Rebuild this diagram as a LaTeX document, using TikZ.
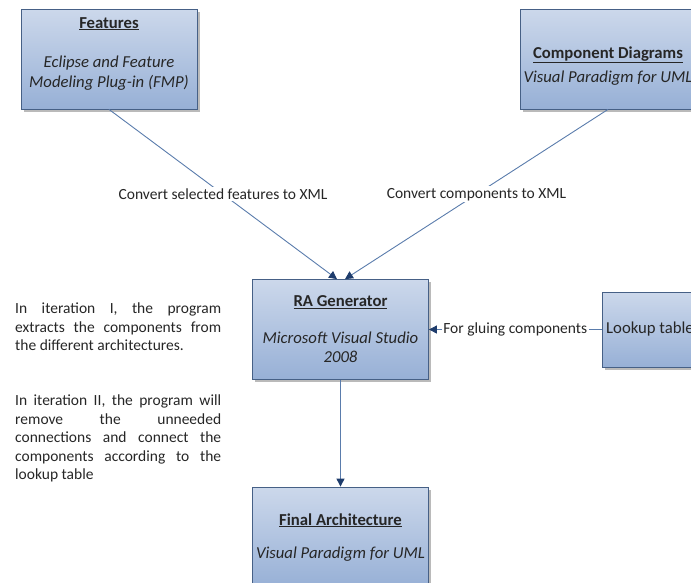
\documentclass[tikz,border=0pt]{standalone}
\usepackage{fontspec}
\setmainfont{Carlito}
\usetikzlibrary{positioning,arrows.meta,shadows}
\definecolor{boxtop}{RGB}{204,216,235}
\definecolor{boxbot}{RGB}{151,176,214}
\definecolor{boxedge}{RGB}{70,96,134}
\definecolor{linkblue}{RGB}{90,124,172}
\definecolor{tipnavy}{RGB}{30,60,108}
\definecolor{ink}{RGB}{38,38,38}
\newcommand{\bodyfont}{\fontsize{15.5}{18.4}\selectfont}
\newcommand{\boxfont}{\fontsize{16.7}{19.5}\selectfont}
\tikzset{
  toolbox/.style={draw=boxedge, line width=0.8pt, top color=boxtop, bottom color=boxbot,
    drop shadow={shadow xshift=2.5pt, shadow yshift=-2.5pt, fill=black!60, opacity=0.45},
    minimum width=176pt, minimum height=100pt, inner sep=0pt},
  boxtext/.style={font=\boxfont, text=ink, align=center, inner sep=0pt},
  notetext/.style={font=\bodyfont, text=ink, align=justify, text width=206pt,
    inner sep=0pt, anchor=north west},
  flowlabel/.style={font=\bodyfont, text=ink, fill=white, inner sep=1.5pt},
  flowarr/.style={draw=linkblue, line width=0.9pt,
    -{Triangle[length=8pt,width=8pt,color=tipnavy]}},
}

\begin{document}
\begin{tikzpicture}[x=1pt, y=-1pt]
  \useasboundingbox (0,0) rectangle (691,582);
  \clip (0,0) rectangle (691,582);

  % ---- source tools ----
  \node[toolbox] at (109,59) (Feat) {};
  \node[boxtext, below=8.5pt of Feat.north] (FeatTxt)
    {\textbf{\underline{Features}}\\[20pt]\textit{Eclipse and Feature}\\\textit{Modeling Plug-in (FMP)}};
  \node[toolbox] at (608,59) (CompDia) {};
  \node[boxtext, below=37.5pt of CompDia.north] (CompTxt)
    {\textbf{\underline{Component Diagrams}}\\[4.5pt]\textit{Visual Paradigm for UML}};

  % ---- generator + lookup ----
  \node[toolbox] at (340.5,329.5) (RAGen) {};
  \node[boxtext, below=16.5pt of RAGen.north] (RATxt)
    {\textbf{\underline{RA Generator}}\\[17pt]\textit{Microsoft Visual Studio}\\\textit{2008}};
  \node[toolbox, minimum width=96pt, minimum height=75pt, font=\boxfont, text=ink]
    at (650,329.5) (Lookup) {Lookup table};

  % ---- result ----
  \node[toolbox] at (340.5,537) (FinalArch) {};
  \node[boxtext, below=26.5pt of FinalArch.north] (FinalTxt)
    {\textbf{\underline{Final Architecture}}\\[13.5pt]\textit{Visual Paradigm for UML}};

  % ---- notes on the left ----
  \node[notetext] at (15,303) (iterI)
    {In iteration I, the program\linebreak extracts the components from\linebreak the different architectures.};
  \node[notetext] at (15,395) (iterII)
    {In iteration II, the program will\linebreak remove the unneeded\linebreak connections and connect the\linebreak components according to the\linebreak lookup table};

  % ---- edges ----
  \draw[flowarr] (Feat.south) -- ([xshift=-3.5pt]RAGen.north)
    node[flowlabel, midway] (convFeat) {Convert selected features to XML};
  \draw[flowarr] (CompDia.south) -- ([xshift=4.5pt]RAGen.north)
    node[flowlabel, midway] (convComp) {Convert components to XML};
  \draw[flowarr] (Lookup.west) -- (Lookup.west -| RAGen.east)
    node[flowlabel, midway] (glue) {For gluing components};
  \draw[flowarr] (RAGen.south) -- (FinalArch.north);
\end{tikzpicture}
\end{document}
